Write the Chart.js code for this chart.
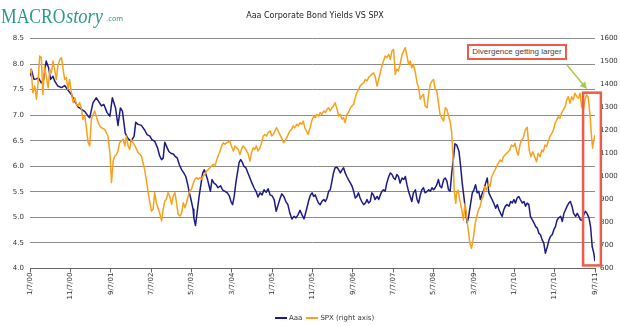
<!DOCTYPE html>
<html>
<head>
<meta charset="utf-8">
<script src="https://cdn.jsdelivr.net/npm/chart.js@4/dist/chart.umd.min.js"></script>
<style>
  body { margin: 0; background: #fff; }
  #wrap { position: relative; width: 620px; height: 326px; overflow: hidden; font-family: 'DejaVu Sans', sans-serif; }
  #chart { position: absolute; left: 0; top: 0; }
  .logo { position: absolute; color: #2b998a; white-space: nowrap; line-height: 1; }
  .logo-macro { left: 1px; top: 3px; font: 22px 'Liberation Serif', serif; transform: scaleX(0.8); transform-origin: left top; }
  .logo-story { left: 66px; top: 4px; font: italic 21px 'Liberation Serif', serif; transform: scaleX(0.88); transform-origin: left top; }
  .logo-com { left: 106px; top: 15px; font: 7px 'DejaVu Sans', sans-serif; }
  .title { position: absolute; left: 0; width: 630px; top: 11px; text-align: center; font-size: 8px; color: #222; }
  .note { position: absolute; left: 467px; top: 44px; width: 96px; height: 12px; border: 2px solid #ee5b4b; background: #fff;
          font: 8px 'Liberation Sans', Arial, sans-serif; color: #444; text-align: center; line-height: 12px; }
  .legend { position: absolute; left: 275px; top: 314px; display: flex; align-items: center; font-size: 7px; color: #333; line-height: 8px; }
  .legend span.sw { display: inline-block; width: 12px; height: 2px; margin-right: 2px; }
  .legend span.lb { margin-right: 4px; }
</style>
</head>
<body>
<div id="wrap">
  <canvas id="chart" width="620" height="326"></canvas>
  <div class="logo logo-macro">MACRO</div>
  <div class="logo logo-story">story</div>
  <div class="logo logo-com">.com</div>
  <div class="title">Aaa Corporate Bond Yields VS SPX</div>
  <div class="note">Divergence getting larger</div>
  <div class="legend" id="legend"></div>
</div>
<script>
// x positions are months since 1/7/00 (one tick label every 10 months)
const tickLabels = ['1/7/00', '11/7/00', '9/7/01', '7/7/02', '5/7/03', '3/7/04', '1/7/05', '11/7/05',
  '9/7/06', '7/7/07', '5/7/08', '3/7/09', '1/7/10', '11/7/10', '9/7/11'];
const tickStep = 10;

const aaaMonths = [0, 0.3, 1.0, 1.6, 2.1, 2.8, 3.4, 4.0, 4.6, 5.1, 5.7, 6.1, 6.9, 7.8, 8.6, 9.4, 10.2, 11.1, 11.9, 12.7,
  13.6, 14.4, 14.8, 15.6, 16.4, 17.0, 17.7, 18.3, 19.1, 19.8, 20.4, 21.2, 21.8, 22.4, 22.9, 23.6, 24.3, 25.1, 25.8, 26.2,
  26.8, 27.6, 28.4, 29.0, 29.7, 30.2, 30.9, 31.6, 32.1, 32.6, 33.0, 33.4, 34.0, 34.4, 35.0, 35.5, 35.9, 36.5, 37.0, 37.6,
  38.1, 38.6, 39.0, 39.5, 39.9, 40.4, 40.6, 41.0, 41.4, 41.9, 42.4, 42.8, 43.2, 43.6, 44.0, 44.4, 44.7, 45.1, 45.6, 46.1,
  46.6, 47.2, 47.7, 48.3, 48.9, 49.4, 49.8, 50.2, 50.6, 51.0, 51.4, 51.8, 52.2, 52.6, 53.0, 53.5, 54.0, 54.5, 55.0, 55.5,
  56.0, 56.5, 57.0, 57.5, 58.0, 58.5, 59.0, 59.5, 60.0, 60.5, 61.0, 61.5, 62.0, 62.4, 62.9, 63.4, 63.9, 64.4, 64.9, 65.4,
  65.9, 66.4, 66.9, 67.4, 67.9, 68.5, 69.0, 69.4, 69.9, 70.3, 70.7, 71.1, 71.5, 71.9, 72.3, 72.8, 73.2, 73.6, 74.0, 74.4,
  74.8, 75.2, 75.6, 76.1, 76.5, 76.9, 77.3, 77.7, 78.1, 78.5, 78.9, 79.4, 79.8, 80.2, 80.6, 81.0, 81.4, 81.8, 82.2, 82.7,
  83.1, 83.5, 83.9, 84.3, 84.7, 85.1, 85.5, 86.0, 86.4, 86.8, 87.2, 87.6, 88.0, 88.4, 88.9, 89.3, 89.7, 90.1, 90.5, 90.9,
  91.3, 91.7, 92.2, 92.6, 93.0, 93.4, 93.8, 94.2, 94.6, 95.0, 95.5, 95.9, 96.3, 96.7, 97.1, 97.5, 97.9, 98.4, 98.8, 99.2,
  99.6, 100.0, 100.4, 100.8, 101.2, 101.6, 102.0, 102.5, 102.9, 103.3, 103.7, 104.1, 104.5, 104.9, 105.3, 105.7, 106.0, 106.3, 106.7, 107.1,
  107.5, 107.9, 108.3, 108.7, 109.2, 109.6, 110.0, 110.4, 110.8, 111.2, 111.6, 112.1, 112.5, 112.9, 113.3, 113.7, 114.1, 114.5, 114.9, 115.4,
  115.8, 116.2, 116.6, 117.0, 117.4, 117.8, 118.2, 118.7, 119.1, 119.5, 119.9, 120.3, 120.7, 121.1, 121.5, 122.0, 122.4, 122.8, 123.2, 123.6,
  124.0, 124.4, 124.9, 125.3, 125.7, 126.1, 126.5, 126.9, 127.3, 127.7, 128.2, 128.6, 129.0, 129.4, 129.8, 130.2, 130.6, 131.0, 131.5, 131.9,
  132.3, 132.7, 133.1, 133.5, 133.9, 134.3, 134.7, 135.2, 135.6, 136.0, 136.4, 136.8, 137.2, 137.6, 138.0, 138.5, 138.9, 139.3, 139.7, 140.0];
const aaaYields = [7.76, 7.90, 7.70, 7.71, 7.73, 7.63, 7.70, 8.06, 7.93, 7.70, 7.76, 7.67, 7.57, 7.54, 7.58, 7.49, 7.41, 7.27, 7.16, 7.12,
  7.07, 6.98, 6.95, 7.24, 7.34, 7.27, 7.18, 7.21, 7.05, 6.98, 7.34, 7.14, 6.80, 7.14, 7.08, 6.65, 6.54, 6.49, 6.59, 6.86,
  6.82, 6.80, 6.71, 6.62, 6.59, 6.52, 6.49, 6.36, 6.21, 6.13, 6.16, 6.47, 6.36, 6.29, 6.25, 6.24, 6.20, 6.16, 6.03, 5.93,
  5.87, 5.80, 5.67, 5.48, 5.35, 5.16, 4.99, 4.84, 5.09, 5.41, 5.67, 5.87, 5.93, 5.84, 5.74, 5.61, 5.51, 5.74, 5.67, 5.64,
  5.58, 5.62, 5.54, 5.51, 5.48, 5.42, 5.31, 5.25, 5.41, 5.67, 5.87, 6.07, 6.13, 6.08, 6.00, 5.97, 5.87, 5.77, 5.67, 5.58,
  5.51, 5.40, 5.48, 5.44, 5.54, 5.49, 5.56, 5.44, 5.42, 5.35, 5.12, 5.25, 5.38, 5.46, 5.41, 5.31, 5.25, 5.08, 4.97, 5.02,
  4.99, 5.05, 5.14, 5.05, 4.97, 5.15, 5.31, 5.42, 5.48, 5.41, 5.44, 5.35, 5.28, 5.25, 5.31, 5.35, 5.31, 5.38, 5.51, 5.54,
  5.70, 5.87, 5.97, 5.98, 5.93, 5.87, 5.93, 5.97, 5.87, 5.80, 5.74, 5.67, 5.61, 5.51, 5.38, 5.41, 5.48, 5.38, 5.31, 5.25,
  5.28, 5.35, 5.28, 5.31, 5.48, 5.44, 5.35, 5.41, 5.35, 5.44, 5.51, 5.54, 5.51, 5.67, 5.80, 5.87, 5.84, 5.77, 5.74, 5.84,
  5.80, 5.67, 5.77, 5.74, 5.80, 5.64, 5.51, 5.41, 5.31, 5.48, 5.54, 5.35, 5.28, 5.44, 5.54, 5.58, 5.48, 5.51, 5.54, 5.51,
  5.58, 5.54, 5.58, 5.64, 5.74, 5.61, 5.58, 5.74, 5.77, 5.71, 5.54, 5.51, 5.87, 6.13, 6.44, 6.42, 6.36, 6.29, 6.00, 5.67,
  5.41, 5.15, 4.89, 5.02, 5.28, 5.48, 5.54, 5.64, 5.48, 5.51, 5.35, 5.48, 5.54, 5.67, 5.77, 5.48, 5.41, 5.35, 5.28, 5.18,
  5.25, 5.15, 5.08, 5.02, 5.15, 5.22, 5.25, 5.22, 5.31, 5.28, 5.35, 5.28, 5.38, 5.41, 5.35, 5.28, 5.31, 5.22, 5.28, 5.25,
  5.02, 4.96, 4.89, 4.82, 4.79, 4.69, 4.66, 4.56, 4.50, 4.30, 4.43, 4.56, 4.63, 4.66, 4.76, 4.82, 4.95, 4.99, 5.02, 4.92,
  5.08, 5.15, 5.22, 5.28, 5.31, 5.22, 5.08, 5.02, 5.08, 5.02, 4.95, 4.95, 5.05, 5.12, 5.08, 4.99, 4.82, 4.43, 4.30, 4.14];

const spxMonths = [0, 0.3, 0.7, 1.2, 1.6, 2.0, 2.4, 2.8, 3.2, 3.6, 4.0, 4.5, 4.9, 5.3, 5.7, 6.1, 6.5, 6.9, 7.4, 7.8,
  8.2, 8.6, 9.0, 9.4, 9.8, 10.2, 10.7, 11.1, 11.5, 11.9, 12.3, 12.7, 13.1, 13.6, 14.0, 14.4, 14.8, 15.2, 16.0, 16.4,
  16.9, 17.3, 17.7, 18.5, 19.3, 19.8, 20.2, 20.6, 21.0, 21.4, 21.8, 22.2, 23.1, 23.5, 23.9, 24.3, 24.7, 25.1, 26.0, 26.8,
  27.6, 28.0, 28.4, 28.8, 29.3, 29.7, 30.1, 30.5, 30.9, 31.3, 32.1, 32.6, 33.0, 33.4, 33.8, 34.2, 34.6, 35.1, 35.5, 35.9,
  36.3, 36.7, 37.2, 37.6, 38.0, 38.4, 38.8, 39.2, 39.6, 40.0, 40.5, 40.9, 41.3, 41.7, 42.1, 42.5, 42.9, 43.3, 43.8, 44.2,
  44.6, 45.0, 45.4, 45.8, 46.2, 46.6, 47.1, 47.5, 47.9, 48.3, 48.7, 49.1, 49.5, 49.9, 50.4, 50.8, 51.2, 51.6, 52.0, 52.4,
  52.8, 53.2, 53.7, 54.1, 54.5, 54.9, 55.3, 55.7, 56.1, 56.5, 57.0, 57.4, 57.8, 58.2, 58.6, 59.0, 59.5, 59.9, 60.3, 60.7,
  61.1, 61.5, 61.9, 62.3, 62.8, 63.2, 63.6, 64.0, 64.4, 64.8, 65.2, 65.6, 66.1, 66.5, 66.9, 67.3, 67.7, 68.1, 68.5, 68.9,
  69.4, 69.8, 70.3, 70.7, 71.1, 71.5, 71.9, 72.3, 72.8, 73.2, 73.6, 74.0, 74.4, 74.8, 75.2, 75.6, 76.1, 76.5, 76.9, 77.3,
  77.7, 78.1, 78.5, 78.9, 79.4, 79.8, 80.2, 80.6, 81.0, 81.4, 81.8, 82.2, 82.7, 83.1, 83.5, 83.9, 84.3, 84.7, 85.1, 85.5,
  86.0, 86.4, 86.8, 87.2, 87.6, 88.0, 88.4, 88.9, 89.3, 89.7, 90.1, 90.5, 90.9, 91.3, 91.7, 92.2, 92.6, 93.0, 93.4, 93.8,
  94.2, 94.6, 95.0, 95.5, 95.9, 96.3, 96.7, 97.1, 97.5, 97.9, 98.4, 98.8, 99.2, 99.6, 100.0, 100.4, 100.8, 101.2, 101.6, 102.0,
  102.5, 102.9, 103.3, 103.7, 104.1, 104.5, 104.9, 105.1, 105.5, 105.7, 106.1, 106.5, 107.0, 107.4, 107.8, 108.2, 108.6, 109.0, 109.4, 109.9,
  110.3, 110.7, 111.1, 111.5, 111.9, 112.3, 112.7, 113.1, 113.6, 114.0, 114.4, 114.8, 115.2, 115.6, 116.0, 116.5, 116.9, 117.3, 117.7, 118.1,
  118.5, 118.9, 119.3, 119.8, 120.2, 120.6, 121.0, 121.4, 121.8, 122.2, 122.7, 123.2, 123.7, 124.1, 124.6, 125.0, 125.5, 125.9, 126.4, 126.8,
  127.2, 127.6, 128.0, 128.4, 128.8, 129.3, 129.7, 130.1, 130.5, 130.9, 131.3, 131.7, 132.1, 132.6, 133.0, 133.4, 133.8, 134.2, 134.6, 135.0,
  135.5, 135.9, 136.3, 136.7, 137.1, 137.5, 137.9, 138.3, 138.8, 139.2, 139.4, 139.7, 140.0];
const spxCloses = [1451, 1466, 1364, 1393, 1336, 1408, 1524, 1517, 1357, 1480, 1437, 1386, 1466, 1451, 1502, 1466, 1422, 1480, 1509, 1517,
  1466, 1422, 1430, 1379, 1422, 1372, 1321, 1343, 1314, 1307, 1321, 1299, 1249, 1263, 1205, 1147, 1133, 1249, 1285, 1263,
  1234, 1220, 1212, 1205, 1176, 1104, 973, 1067, 1089, 1096, 1111, 1147, 1162, 1133, 1176, 1133, 1118, 1162, 1133, 1104,
  1089, 1060, 1031, 988, 930, 886, 850, 857, 930, 886, 843, 807, 857, 893, 901, 930, 915, 879, 915, 930,
  886, 836, 828, 843, 886, 864, 886, 915, 937, 944, 973, 988, 995, 988, 995, 988, 1002, 1009, 1024, 1031,
  1038, 1046, 1053, 1046, 1067, 1089, 1111, 1133, 1147, 1140, 1147, 1150, 1154, 1133, 1111, 1133, 1125, 1118, 1096, 1118,
  1133, 1125, 1111, 1096, 1067, 1104, 1125, 1118, 1133, 1111, 1125, 1147, 1176, 1183, 1176, 1191, 1198, 1176, 1183, 1198,
  1212, 1198, 1183, 1169, 1147, 1154, 1169, 1183, 1198, 1205, 1220, 1212, 1227, 1220, 1234, 1227, 1241, 1212, 1198, 1183,
  1212, 1241, 1263, 1256, 1270, 1263, 1278, 1270, 1285, 1278, 1292, 1299, 1285, 1299, 1307, 1321, 1292, 1263, 1270, 1249,
  1256, 1234, 1270, 1278, 1299, 1307, 1314, 1343, 1364, 1379, 1393, 1401, 1408, 1422, 1415, 1430, 1437, 1444, 1451, 1437,
  1393, 1422, 1451, 1480, 1502, 1524, 1517, 1531, 1509, 1546, 1553, 1444, 1466, 1459, 1488, 1531, 1546, 1560, 1524, 1488,
  1502, 1473, 1488, 1451, 1408, 1386, 1336, 1350, 1357, 1307, 1299, 1364, 1401, 1415, 1422, 1379, 1372, 1321, 1270, 1256,
  1241, 1299, 1292, 1263, 1240, 1190, 1057, 941, 883, 927, 941, 898, 854, 811, 883, 825, 767, 709, 688, 738,
  796, 825, 854, 868, 898, 912, 956, 941, 970, 956, 999, 1014, 1028, 1043, 1057, 1072, 1064, 1086, 1093, 1101,
  1108, 1115, 1137, 1130, 1144, 1108, 1093, 1137, 1159, 1166, 1202, 1214, 1115, 1086, 1108, 1089, 1064, 1101, 1086, 1115,
  1108, 1137, 1130, 1151, 1173, 1188, 1202, 1231, 1245, 1260, 1253, 1275, 1289, 1304, 1333, 1347, 1318, 1347, 1333, 1362,
  1347, 1340, 1362, 1304, 1289, 1333, 1354, 1347, 1260, 1159, 1123, 1159, 1180];

const FONT = 'DejaVu Sans';
const TICK_COLOR = '#333';

// red window round the last weeks plus the green pointer from the note
const callouts = {
  id: 'callouts',
  afterDatasetsDraw(chart) {
    const { ctx, scales: { x, y } } = chart;
    ctx.save();
    const l = x.getPixelForValue(137.05), r = x.getPixelForValue(141.45);
    const t = y.getPixelForValue(7.44), b = y.getPixelForValue(4.06);
    ctx.strokeStyle = '#ee5b4b';
    ctx.lineWidth = 2.5;
    ctx.strokeRect(l, t, r - l, b - t);

    const x0 = x.getPixelForValue(133.05), y0 = y.getPixelForValue(7.98);
    const x1 = x.getPixelForValue(138.0), y1 = y.getPixelForValue(7.51);
    const ang = Math.atan2(y1 - y0, x1 - x0);
    ctx.strokeStyle = ctx.fillStyle = '#a9c94a';
    ctx.lineWidth = 1.5;
    ctx.beginPath();
    ctx.moveTo(x0, y0);
    ctx.lineTo(x1 - 5 * Math.cos(ang), y1 - 5 * Math.sin(ang));
    ctx.stroke();
    ctx.beginPath();
    ctx.moveTo(x1, y1);
    ctx.lineTo(x1 - 7 * Math.cos(ang) + 3.5 * Math.sin(ang), y1 - 7 * Math.sin(ang) - 3.5 * Math.cos(ang));
    ctx.lineTo(x1 - 7 * Math.cos(ang) - 3.5 * Math.sin(ang), y1 - 7 * Math.sin(ang) + 3.5 * Math.cos(ang));
    ctx.closePath();
    ctx.fill();
    ctx.restore();
  }
};

const chart = new Chart(document.getElementById('chart'), {
  type: 'line',
  data: {
    datasets: [
      { label: 'Aaa', data: aaaMonths.map((m, i) => ({ x: m, y: aaaYields[i] })), yAxisID: 'y',
        borderColor: '#1b1b86', borderWidth: 1.5, pointRadius: 0, borderJoinStyle: 'round', order: 2 },
      { label: 'SPX (right axis)', data: spxMonths.map((m, i) => ({ x: m, y: spxCloses[i] })), yAxisID: 'y2',
        borderColor: '#f9a11b', borderWidth: 1.5, pointRadius: 0, borderJoinStyle: 'round', order: 1 }
    ]
  },
  options: {
    responsive: false,
    animation: false,
    layout: { padding: { top: 38.5, left: 0, right: 0, bottom: 0 } },
    plugins: { legend: { display: false }, tooltip: { enabled: false } },
    scales: {
      x: {
        type: 'linear', min: 0, max: (tickLabels.length - 1) * tickStep,
        afterBuildTicks: s => { s.ticks = tickLabels.map((_, i) => ({ value: i * tickStep })); },
        afterFit: s => { s.height = 326 - 268.5; },
        ticks: { autoSkip: false, minRotation: 90, maxRotation: 90, padding: 0, color: TICK_COLOR,
                 font: { family: FONT, size: 7 }, callback: v => tickLabels[Math.round(v / tickStep)] },
        grid: { drawOnChartArea: false, tickLength: 4, color: '#666' },
        border: { color: '#666' }
      },
      y: {
        position: 'left', min: 4, max: 8.5,
        afterFit: s => { s.width = 30; },
        ticks: { stepSize: 0.5, padding: 6, color: TICK_COLOR, font: { family: FONT, size: 7 }, callback: v => v.toFixed(1) },
        grid: { color: '#8c8c8c', drawTicks: false },
        border: { display: false }
      },
      y2: {
        position: 'right', min: 600, max: 1600,
        afterFit: s => { s.width = 25; },
        ticks: { stepSize: 100, padding: 5, color: TICK_COLOR, font: { family: FONT, size: 7 }, callback: v => String(v) },
        grid: { drawOnChartArea: false, drawTicks: false },
        border: { display: false }
      }
    }
  },
  plugins: [callouts]
});

document.getElementById('legend').innerHTML = chart.data.datasets.map(d =>
  `<span class="sw" style="background:${d.borderColor}"></span><span class="lb">${d.label}</span>`).join('');
</script>
</body>
</html>
